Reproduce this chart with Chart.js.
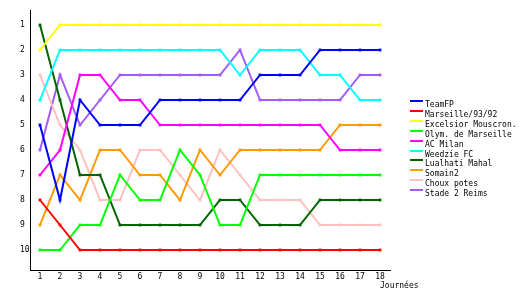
<!DOCTYPE html>
<html lang="fr">
<head>
    <meta charset="UTF-8">
    <title>Classement par journée</title>
    <style>
        body {
            margin: 0;
            padding: 0;
            background-color: #fff;
        }
    </style>
    <script src="https://cdn.jsdelivr.net/npm/chart.js"></script>
</head>
<body>
    <canvas id="rankChart" width="530" height="300"></canvas>

    <script>
        // Journées and ranking ticks
        const journees = [1, 2, 3, 4, 5, 6, 7, 8, 9, 10, 11, 12, 13, 14, 15, 16, 17, 18];
        const rangTicks = [1, 2, 3, 4, 5, 6, 7, 8, 9, 10];

        const equipes = ['TeamFP', 'Marseille/93/92', 'Excelsior Mouscron.', 'Olym. de Marseille', 'AC Milan',
            'Weedzie FC', 'Lualhati Mahal', 'Somain2', 'Choux potes', 'Stade 2 Reims'];

        // Rank of each team after each journée
        const teamFP       = [5, 8, 4, 5, 5, 5, 4, 4, 4, 4, 4, 3, 3, 3, 2, 2, 2, 2];
        const marseille    = [8, 9, 10, 10, 10, 10, 10, 10, 10, 10, 10, 10, 10, 10, 10, 10, 10, 10];
        const excelsior    = [2, 1, 1, 1, 1, 1, 1, 1, 1, 1, 1, 1, 1, 1, 1, 1, 1, 1];
        const olymMarseille = [10, 10, 9, 9, 7, 8, 8, 6, 7, 9, 9, 7, 7, 7, 7, 7, 7, 7];
        const acMilan      = [7, 6, 3, 3, 4, 4, 5, 5, 5, 5, 5, 5, 5, 5, 5, 6, 6, 6];
        const weedzie      = [4, 2, 2, 2, 2, 2, 2, 2, 2, 2, 3, 2, 2, 2, 3, 3, 4, 4];
        const lualhati     = [1, 4, 7, 7, 9, 9, 9, 9, 9, 8, 8, 9, 9, 9, 8, 8, 8, 8];
        const somain2      = [9, 7, 8, 6, 6, 7, 7, 8, 6, 7, 6, 6, 6, 6, 6, 5, 5, 5];
        const chouxPotes   = [3, 5, 6, 8, 8, 6, 6, 7, 8, 6, 7, 8, 8, 8, 9, 9, 9, 9];
        const stade2Reims  = [6, 3, 5, 4, 3, 3, 3, 3, 3, 3, 2, 4, 4, 4, 4, 4, 3, 3];

        const classements = [teamFP, marseille, excelsior, olymMarseille, acMilan,
            weedzie, lualhati, somain2, chouxPotes, stade2Reims];

        const couleurs = ['#0000ff', '#ff0000', '#ffff00', '#00ff00', '#ff00ff',
            '#00ffff', '#006400', '#ff9900', '#ffc0c0', '#a25cf5'];

        const FONT = { family: '"DejaVu Sans Mono", monospace', size: 8 };

        // legend on the right + x axis name
        const sideLegend = {
            id: 'sideLegend',
            afterDraw(chart) {
                const ctx = chart.ctx;
                ctx.save();
                ctx.font = '8px "DejaVu Sans Mono", monospace';
                ctx.textBaseline = 'alphabetic';
                chart.data.datasets.forEach((ds, i) => {
                    const y = Math.round(101 + i * 9.9);
                    ctx.fillStyle = ds.borderColor;
                    ctx.fillRect(410, y - 1, 13, 2);
                    ctx.fillStyle = '#000';
                    ctx.fillText(ds.label, 425, y + 6);
                });
                ctx.fillText('Journées', 380, 288);
                ctx.restore();
            }
        };

        function renderChart() {
            const ctx = document.getElementById('rankChart').getContext('2d');
            new Chart(ctx, {
                type: 'line',
                data: {
                    labels: journees,
                    datasets: equipes.map((nom, i) => ({
                        label: nom,
                        data: classements[i],
                        borderColor: couleurs[i],
                        backgroundColor: couleurs[i],
                        pointBackgroundColor: couleurs[i],
                        borderWidth: 2,
                        pointStyle: 'rect',
                        pointRadius: 2,
                        pointBorderWidth: 0,
                        tension: 0,
                        fill: false
                    }))
                },
                options: {
                    responsive: false,
                    animation: false,
                    layout: { padding: { left: 20, top: 10, right: 140, bottom: 0 } },
                    plugins: {
                        legend: { display: false },
                        tooltip: { enabled: false }
                    },
                    scales: {
                        x: {
                            type: 'category',
                            offset: true,
                            grid: { display: false, drawTicks: false },
                            border: { display: true, color: '#000', width: 1 },
                            ticks: { color: '#000', font: FONT, padding: 2, maxRotation: 0, autoSkip: false },
                            afterFit(scale) { scale.height = 30; }
                        },
                        y: {
                            reverse: true,
                            min: 0.4,
                            max: 10.8,
                            grid: { display: false, drawTicks: false },
                            border: { display: true, color: '#000', width: 1 },
                            ticks: { color: '#000', font: FONT, crossAlign: 'far' },
                            afterBuildTicks(scale) { scale.ticks = rangTicks.map(v => ({ value: v })); },
                            afterFit(scale) { scale.width = 10; }
                        }
                    }
                },
                plugins: [sideLegend]
            });
        }

        document.addEventListener('DOMContentLoaded', renderChart);
    </script>
</body>
</html>
